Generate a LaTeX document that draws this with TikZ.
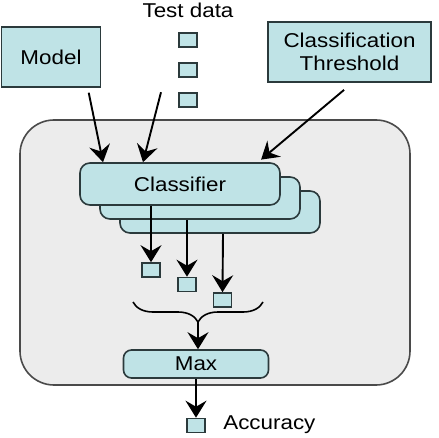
\documentclass[tikz,border=0pt]{standalone}
\usepackage{fontspec}
\setmainfont{Liberation Sans}[FakeStretch=1.12]
\usetikzlibrary{arrows.meta, positioning, decorations.pathreplacing}
\usepackage{xcolor}
\definecolor{boxFill}{HTML}{BFE3E6}
\definecolor{boxLine}{HTML}{2B3A3C}
\definecolor{panelFill}{HTML}{ECECEC}
\definecolor{panelLine}{HTML}{4A4A4A}
\tikzset{
    font=\fontsize{20}{23}\selectfont,
    >={Stealth[length=17pt, width=21pt, inset=6pt]},
    % Shapes
    box/.style={rectangle, draw=boxLine, fill=boxFill, line width=1.6pt,
                align=center, inner sep=0pt},
    rbox/.style={box, rounded corners=10pt},
    datum/.style={box, minimum width=18pt, minimum height=14pt},
    panel/.style={rectangle, draw=panelLine, fill=panelFill, line width=1.6pt,
                  rounded corners=34pt, minimum width=390pt, minimum height=265pt},
    % Flow
    flow/.style={->, line width=1.9pt, black}
}

\begin{document}
\begin{tikzpicture}[x=1pt, y=1pt]
\useasboundingbox (0,0) rectangle (439,437);

% Panel
\node[panel] (panel) at (215,184.5) {};

% Inputs
\node[box, minimum width=99pt, minimum height=60pt] (model) at (51,380) {Model};
\node[box, minimum width=163pt, minimum height=60pt] (thresh) at (349.5,385) {Classification\\Threshold};
\node (testlbl) at (188,427) {Test data};
\node[datum] (d1) at (188,397) {};
\node[datum] (d2) at (188,367) {};
\node[datum] (d3) at (188,337) {};

% Classifiers
\node[rbox, minimum width=200pt, minimum height=42pt] (cls3) at (220,225) {};
\node[rbox, minimum width=200pt, minimum height=42pt] (cls2) at (200,239) {};
\node[rbox, minimum width=200pt, minimum height=42pt] (cls1) at (180,253) {Classifier};

% Outputs
\node[datum] (o1) at (151,167) {};
\node[datum] (o2) at (187,152.5) {};
\node[datum] (o3) at (222.5,137) {};
\coordinate (tip) at (198,115);
\node[rbox, rounded corners=8pt, minimum width=145pt, minimum height=28pt] (max) at (196,73) {Max};
\node[datum] (acc) at (196,11.5) {};
\node[right=14pt of acc, yshift=1pt] (acclbl) {Accuracy};

% Arrows
\draw[flow, shorten <=5pt] (model.-40) -- ([xshift=-77pt]cls1.north);
\draw[flow] ([xshift=-27pt]d3.north) -- ([xshift=-37pt]cls1.north);
\draw[flow, shorten <=11pt, shorten >=4pt] ([xshift=3pt]thresh.south) -- ([xshift=78pt]cls1.north);
\draw[flow] ([xshift=-29pt]cls1.south) -- (o1.north);
\draw[flow] ([xshift=-13pt]cls2.south) -- (o2.north);
\draw[flow] ([xshift=3pt]cls3.south) -- (o3.north);
\draw[line width=1.6pt, decorate, decoration={brace, amplitude=20pt}]
    (263,135) -- (133,135);
\draw[flow] (tip) -- (tip |- max.north);
\draw[flow] (max.south) -- (acc.north);

\end{tikzpicture}
\end{document}
